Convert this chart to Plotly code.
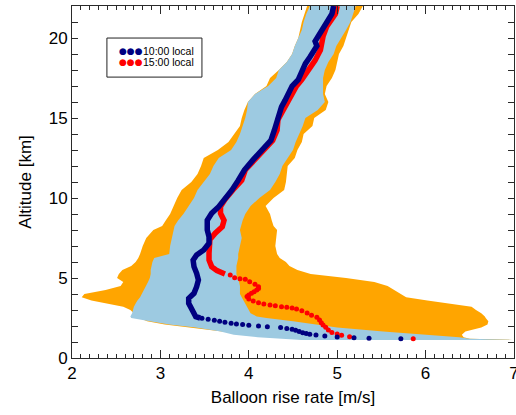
import plotly.graph_objects as go

# ---------------- data ----------------
# altitude grid for the spread bands [km]
band_alt = [1.13, 1.2, 1.3, 1.45, 1.65, 1.9, 2.1, 2.3, 2.5, 2.6, 2.8, 3.0, 3.2, 3.4, 3.6, 3.8,
            4.0, 4.25, 4.5, 4.75, 5.0, 5.25, 5.5, 5.75, 6.0, 6.25, 6.5, 7.0, 7.5, 8.0, 8.25,
            8.6, 9.0, 9.5, 10.0, 10.5, 11.0, 11.5, 12.0, 12.5, 13.0, 13.5, 14.0, 14.5, 15.0,
            15.5, 16.0, 16.5, 17.0, 17.5, 18.0, 18.5, 19.0, 19.5, 20.0, 20.5, 21.0, 21.5, 22.0]

# outer (orange) envelope, left and right edge [m/s]
outer_left = [4.7, 4.5, 4.3, 4.0, 3.7, 3.35, 3.05, 2.85, 2.75, 2.72, 2.70, 2.66, 2.58, 2.41, 2.22, 2.11,
              2.14, 2.38, 2.55, 2.58, 2.51, 2.53, 2.57, 2.67, 2.72, 2.75, 2.77, 2.80, 2.84, 2.92, 3.02,
              3.06, 3.11, 3.15, 3.19, 3.24, 3.35, 3.42, 3.46, 3.49, 3.65, 3.77, 3.84, 3.90, 3.92,
              3.95, 3.99, 4.07, 4.20, 4.24, 4.34, 4.43, 4.49, 4.52, 4.56, 4.58, 4.60, 4.63, 4.66]
outer_right = [6.98, 6.5, 6.43, 6.41, 6.45, 6.63, 6.70, 6.71, 6.68, 6.67, 6.63, 6.57, 6.52, 6.27, 6.02, 5.78,
               5.72, 5.65, 5.57, 5.42, 5.10, 4.70, 4.55, 4.46, 4.42, 4.35, 4.32, 4.30, 4.31, 4.32, 4.28,
               4.26, 4.24, 4.19, 4.28, 4.40, 4.42, 4.43, 4.44, 4.52, 4.55, 4.60, 4.62, 4.72, 4.74,
               4.87, 4.90, 4.86, 4.88, 4.94, 4.98, 5.00, 5.02, 5.07, 5.10, 5.13, 5.16, 5.24, 5.29]

# inner (light blue) spread, left and right edge [m/s]
inner_left = [4.6, 4.35, 4.1, 3.83, 3.68, 3.40, 3.10, 2.88, 2.67, 2.66, 2.68, 2.69, 2.70, 2.72, 2.74, 2.77,
              2.79, 2.81, 2.84, 2.86, 2.88, 2.89, 2.89, 2.90, 2.91, 2.93, 3.10, 3.11, 3.13, 3.15, 3.16,
              3.20, 3.26, 3.32, 3.38, 3.42, 3.49, 3.56, 3.60, 3.66, 3.80, 3.86, 3.90, 3.93, 3.96,
              3.98, 3.99, 4.07, 4.22, 4.31, 4.34, 4.43, 4.49, 4.52, 4.56, 4.60, 4.62, 4.65, 4.69]
inner_right = [6.98, 6.5, 6.38, 6.07, 5.52, 5.00, 4.75, 4.50, 4.20, 4.09, 4.02, 4.00, 3.98, 3.96, 3.94, 3.92,
               3.90, 3.90, 3.90, 3.89, 3.87, 3.86, 3.86, 3.86, 3.87, 3.88, 3.88, 3.90, 3.92, 3.90, 3.91,
               3.93, 3.96, 4.02, 4.12, 4.24, 4.30, 4.35, 4.38, 4.44, 4.50, 4.53, 4.57, 4.61, 4.64,
               4.78, 4.86, 4.84, 4.84, 4.84, 4.86, 4.90, 4.96, 4.99, 5.04, 5.10, 5.15, 5.18, 5.21]

# 10:00 local profile (dense part) [altitude km, rise rate m/s]
am_alt = [2.5, 2.58, 3.0, 3.42, 3.73, 4.04, 4.46, 4.88, 5.29, 5.71, 6.12, 6.44, 6.75, 7.17, 7.58, 8.0,
          8.6, 9.04, 9.46, 9.9, 10.5, 11.1, 11.75, 12.4, 13.0, 13.6, 14.25, 14.9, 15.3, 15.7, 16.1,
          16.5, 17.0, 17.4, 17.9, 18.4, 18.8, 19.5, 19.8, 20.3, 20.7, 21.1, 21.5, 22.0]
am_rate = [3.45, 3.40, 3.36, 3.32, 3.32, 3.38, 3.41, 3.43, 3.41, 3.38, 3.37, 3.41, 3.49, 3.55, 3.55, 3.53,
           3.53, 3.58, 3.66, 3.73, 3.81, 3.88, 3.95, 4.05, 4.15, 4.25, 4.29, 4.32, 4.34, 4.37, 4.41,
           4.45, 4.49, 4.56, 4.60, 4.64, 4.69, 4.77, 4.75, 4.81, 4.86, 4.90, 4.94, 4.96]
# 10:00 local, separate low-level samples
am_dot_alt = [2.48, 2.42, 2.36, 2.29, 2.23, 2.17, 2.13, 2.09, 2.04, 2.00, 1.96, 1.90, 1.85, 1.80,
              1.73, 1.65, 1.58, 1.53, 1.48, 1.43, 1.38, 1.32, 1.27, 1.23, 1.20]
am_dot_rate = [3.47, 3.54, 3.61, 3.67, 3.73, 3.80, 3.86, 3.93, 4.00, 4.11, 4.21, 4.36, 4.43, 4.49,
               4.53, 4.57, 4.61, 4.65, 4.69, 4.76, 4.86, 5.00, 5.19, 5.36, 5.72]

# 15:00 local profile (dense part)
pm_alt = [5.25, 5.46, 5.71, 6.12, 6.54, 6.96, 7.4, 7.8, 8.2, 8.6, 9.04, 9.46, 9.9, 10.5, 11.1, 11.75,
          12.4, 13.0, 13.6, 14.25, 14.9, 15.3, 15.7, 16.1, 16.5, 17.0, 17.4, 17.8, 18.2, 18.6,
          19.25, 19.7, 20.1, 20.7, 21.1, 21.5, 22.0]
pm_rate = [3.73, 3.64, 3.58, 3.55, 3.55, 3.55, 3.56, 3.62, 3.70, 3.72, 3.68, 3.68, 3.73, 3.82, 3.92, 3.96,
           4.07, 4.17, 4.27, 4.32, 4.33, 4.37, 4.41, 4.45, 4.50, 4.54, 4.60, 4.65, 4.71, 4.75,
           4.81, 4.82, 4.84, 4.88, 4.94, 4.98, 5.00]
# 15:00 local, separate low-level samples
pm_dot_alt = [5.19, 5.02, 4.96, 4.92, 4.77, 4.61, 4.46, 4.35, 4.25, 4.14, 4.04, 3.94, 3.84, 3.69, 3.56,
              3.46, 3.38, 3.32, 3.27, 3.21, 3.17, 3.13, 3.07, 2.96, 2.82, 2.67, 2.54, 2.38, 2.21,
              2.06, 1.92, 1.75, 1.60, 1.50, 1.42, 1.33, 1.20]
pm_dot_rate = [3.79, 3.84, 3.90, 3.96, 4.01, 4.07, 4.11, 4.11, 4.09, 4.06, 4.03, 4.00, 3.98, 4.00, 4.05,
               4.11, 4.17, 4.24, 4.30, 4.37, 4.43, 4.49, 4.54, 4.60, 4.66, 4.71, 4.77, 4.80, 4.82,
               4.84, 4.87, 4.90, 4.94, 5.00, 5.05, 5.14, 5.86]

legend_labels = ["10:00 local", "15:00 local"]
x_range = [2, 7]
y_range = [0, 22]
y_tick_vals = list(range(0, 23))
y_tick_text = ["0", "", "", "", "", "5", "", "", "", "", "10", "", "", "", "", "15",
               "", "", "", "", "20", "", ""]

ORANGE = "#FFA500"
LBLUE = "#9DCAE1"
NAVY = "#000080"
RED = "#FF0000"
FONT = "Liberation Sans"
AXC = "#2a2a2a"

fig = go.Figure()

# outer envelope
fig.add_trace(go.Scatter(
    x=outer_left + outer_right[::-1], y=band_alt + band_alt[::-1],
    fill="toself", fillcolor=ORANGE, mode="lines", line=dict(width=0, color=ORANGE),
    hoverinfo="skip", showlegend=False))
# inner spread
fig.add_trace(go.Scatter(
    x=inner_left + inner_right[::-1], y=band_alt + band_alt[::-1],
    fill="toself", fillcolor=LBLUE, mode="lines", line=dict(width=0, color=LBLUE),
    hoverinfo="skip", showlegend=False))

# 15:00 profile
fig.add_trace(go.Scatter(x=pm_rate, y=pm_alt, mode="lines",
                         line=dict(color=RED, width=5.5), showlegend=False))
fig.add_trace(go.Scatter(x=pm_dot_rate, y=pm_dot_alt, mode="markers",
                         marker=dict(color=RED, size=5, line=dict(width=0)), showlegend=False))
# 10:00 profile
fig.add_trace(go.Scatter(x=am_rate, y=am_alt, mode="lines",
                         line=dict(color=NAVY, width=5.5), showlegend=False))
fig.add_trace(go.Scatter(x=am_dot_rate, y=am_dot_alt, mode="markers",
                         marker=dict(color=NAVY, size=5, line=dict(width=0)), showlegend=False))

fig.update_xaxes(range=x_range, dtick=1, ticklabeloverflow="allow",
                 showline=True, linecolor=AXC, mirror="allticks",
                 ticks="inside", ticklen=8, tickwidth=1, tickcolor=AXC,
                 minor=dict(ticks="inside", ticklen=4, tickcolor=AXC, dtick=0.1),
                 tickfont=dict(family=FONT, size=17, color="black"),
                 title=dict(text="Balloon rise rate [m/s]", font=dict(family=FONT, size=17, color="black"),
                            standoff=8))
fig.update_yaxes(range=y_range, tickmode="array", tickvals=y_tick_vals, ticktext=y_tick_text,
                 showline=True, linecolor=AXC, mirror="allticks",
                 ticks="inside", ticklen=6, tickwidth=1, tickcolor=AXC,
                 tickfont=dict(family=FONT, size=17, color="black"),
                 title=dict(text="Altitude [km]", font=dict(family=FONT, size=17, color="black"),
                            standoff=12))

# manual legend (three-dot glyphs)
shapes = [dict(type="rect", xref="paper", yref="paper", x0=0.079, x1=0.294, y0=0.798, y1=0.909,
               line=dict(color="#222222", width=1), fillcolor="white", layer="above")]
annotations = []
for i, (lab, col) in enumerate(zip(legend_labels, [NAVY, RED])):
    yy = 0.872 - i * 0.031
    annotations.append(dict(xref="paper", yref="paper", x=0.102, y=yy, xanchor="left", yanchor="middle",
                            text="●●●", showarrow=False,
                            font=dict(family="DejaVu Sans", size=9, color=col)))
    annotations.append(dict(xref="paper", yref="paper", x=0.156, y=yy, xanchor="left", yanchor="middle",
                            text=lab, showarrow=False,
                            font=dict(family=FONT, size=10.5, color="black")))

fig.update_layout(
    width=516, height=415,
    margin=dict(l=72, r=2, t=6, b=57, autoexpand=False),
    plot_bgcolor="white",
    shapes=shapes, annotations=annotations,
    showlegend=False,
)

fig.write_html("out.html")
